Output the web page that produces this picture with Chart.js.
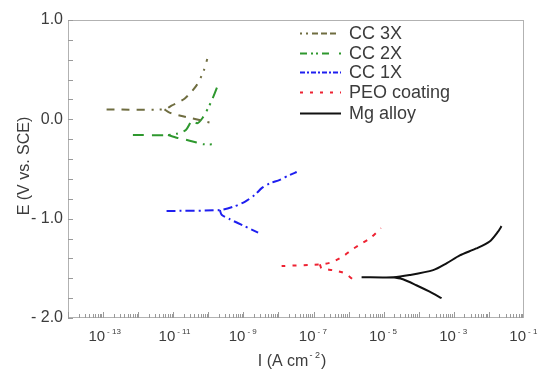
<!DOCTYPE html>
<html>
<head>
<meta charset="utf-8">
<script src="https://cdn.jsdelivr.net/npm/chart.js@4.4.0/dist/chart.umd.min.js"></script>
<style>
  body { margin: 0; background: #fff; }
</style>
</head>
<body>
<canvas id="tafelChart" width="550" height="378"></canvas>
<script>
// Legend names, in legend order
const seriesNames = ['CC 3X', 'CC 2X', 'CC 1X', 'PEO coating', 'Mg alloy'];

// log10(I / A cm-2) and E (V vs. SCE).
// "top" = left end of the flat part -> corrosion point -> anodic branch
// "bot" = corrosion point -> cathodic branch
const cc3xTopLogI = [-12.90, -11.25, -11.05, -10.67, -10.33, -10.13, -10.03];
const cc3xTopE    = [0.100, 0.100, 0.137, 0.210, 0.345, 0.490, 0.607];
const cc3xBotLogI = [-11.25, -11.12, -10.79, -10.38, -9.93];
const cc3xBotE    = [0.100, 0.070, 0.036, 0.003, -0.034];

const cc2xTopLogI = [-12.15, -11.15, -10.86, -10.64, -10.45, -10.32, -10.16, -9.99, -9.89, -9.76, -9.68];
const cc2xTopE    = [-0.158, -0.158, -0.141, -0.108, -0.007, -0.040, 0.016, 0.124, 0.200, 0.315, 0.396];
const cc2xBotLogI = [-11.15, -10.90, -10.70, -10.36, -10.15, -9.76];
const cc2xBotE    = [-0.158, -0.185, -0.200, -0.230, -0.250, -0.252];

const cc1xTopLogI = [-11.19, -9.67, -9.29, -8.96, -8.67, -8.47, -8.25, -7.96, -7.68, -7.48];
const cc1xTopE    = [-0.923, -0.913, -0.880, -0.830, -0.760, -0.690, -0.645, -0.610, -0.560, -0.530];
const cc1xBotLogI = [-9.67, -9.62, -9.38, -9.00, -8.58];
const cc1xBotE    = [-0.913, -0.960, -1.007, -1.070, -1.140];

const peoTopLogI = [-7.91, -6.82, -6.49, -6.16, -5.92, -5.68, -5.40, -5.16, -5.08];
const peoTopE    = [-1.477, -1.460, -1.440, -1.380, -1.316, -1.260, -1.200, -1.125, -1.095];
const peoBotLogI = [-6.82, -6.77, -6.44, -6.11, -5.82];
const peoBotE    = [-1.460, -1.500, -1.520, -1.550, -1.630];

const mgTopLogI = [-5.63, -4.73, -4.26, -3.59, -3.21, -2.83, -2.36, -1.98, -1.74, -1.64];
const mgTopE    = [-1.590, -1.590, -1.568, -1.518, -1.450, -1.370, -1.300, -1.230, -1.130, -1.075];
const mgBotLogI = [-4.73, -4.45, -4.07, -3.69, -3.35];
const mgBotE    = [-1.590, -1.610, -1.670, -1.735, -1.800];

// tick labels
const yTickText = { '1': '1.0', '0': '0.0', '-1': '- 1.0', '-2': '- 2.0' };
const xLabelExps = [-13, -11, -9, -7, -5, -3, -1];

const styles = [
    { color: '#6f6d40', dash: [8, 7, 8, 7, 8, 7, 2, 6, 2, 7], legendDash: [2, 4, 2, 4, 6, 3, 6, 3, 6, 10] },
    { color: '#2e982e', dash: [11, 8, 11, 6, 2, 5, 2, 6], legendDash: [7, 4, 2, 3, 2, 4, 7, 10] },
    { color: '#1f1ff0', dash: [9, 4, 2, 4], legendDash: [5, 2, 2, 2] },
    { color: '#ee2232', dash: [4, 7], legendDash: [3, 7] },
    { color: '#111111', dash: [], legendDash: [] }
];

function toPoints(logI, e) {
    return logI.map((v, i) => ({ x: Math.pow(10, v), y: e[i] }));
}

// one polyline per curve, the null point breaks it between the two branches
function curve(topI, topE, botI, botE) {
    return toPoints(topI, topE).concat([{ x: 1e-10, y: null }], toPoints(botI, botE));
}

const curves = [
    curve(cc3xTopLogI, cc3xTopE, cc3xBotLogI, cc3xBotE),
    curve(cc2xTopLogI, cc2xTopE, cc2xBotLogI, cc2xBotE),
    curve(cc1xTopLogI, cc1xTopE, cc1xBotLogI, cc1xBotE),
    curve(peoTopLogI, peoTopE, peoBotLogI, peoBotE),
    curve(mgTopLogI, mgTopE, mgBotLogI, mgBotE)
];

const textColor = '#3c3c3c';
const fontName = '"Liberation Sans", Arial, sans-serif';

const decor = {
    id: 'decor',
    afterDraw(chart) {
        const { ctx, chartArea: a, scales: { x, y } } = chart;
        const L = Math.round(a.left), R = Math.round(a.right), T = Math.round(a.top), B = Math.round(a.bottom);
        ctx.save();

        // frame
        ctx.strokeStyle = '#b2b2b2';
        ctx.lineWidth = 1;
        ctx.strokeRect(L + 0.5, T + 0.5, R - L - 1, B - T - 1);

        // inner ticks, bottom axis
        ctx.strokeStyle = '#9a9a9a';
        ctx.beginPath();
        for (let ex = -14; ex <= -2; ex++) {
            for (let k = 1; k <= 9; k++) {
                const px = Math.round(x.getPixelForValue(k * Math.pow(10, ex))) + 0.5;
                const len = k === 1 ? 6 : 4;
                ctx.moveTo(px, B);
                ctx.lineTo(px, B - len);
            }
        }
        // inner ticks, left axis
        y.ticks.forEach(t => {
            const py = Math.round(y.getPixelForValue(t.value)) + 0.5;
            ctx.moveTo(L, py);
            ctx.lineTo(L + 5, py);
        });
        ctx.stroke();

        // x tick labels 10^n
        ctx.fillStyle = textColor;
        ctx.textBaseline = 'alphabetic';
        xLabelExps.forEach(ex => {
            const px = x.getPixelForValue(Math.pow(10, ex));
            ctx.font = '15px ' + fontName;
            ctx.textAlign = 'right';
            ctx.fillText('10', px + 2, 341);
            ctx.font = '8px ' + fontName;
            ctx.textAlign = 'left';
            ctx.fillText('- ' + Math.abs(ex), px + 4, 334);
        });

        // x axis title
        ctx.font = '16px ' + fontName;
        const main = 'I (A cm', close = ')';
        const wMain = ctx.measureText(main).width;
        const wClose = ctx.measureText(close).width;
        ctx.font = '9px ' + fontName;
        const sup = '- 2';
        const wSup = ctx.measureText(sup).width;
        let sx = 292 - (wMain + wSup + wClose + 2) / 2;
        ctx.textAlign = 'left';
        ctx.font = '16px ' + fontName;
        ctx.fillText(main, sx, 366);
        ctx.font = '9px ' + fontName;
        ctx.fillText(sup, sx + wMain + 1, 358);
        ctx.font = '16px ' + fontName;
        ctx.fillText(close, sx + wMain + wSup + 2, 366);

        // y axis title
        ctx.save();
        ctx.translate(29, 166);
        ctx.rotate(-Math.PI / 2);
        ctx.textAlign = 'center';
        ctx.font = '16px ' + fontName;
        ctx.fillText('E (V vs. SCE)', 0, 0);
        ctx.restore();

        // legend
        const rows = [33, 53, 72, 92, 113];
        chart.data.datasets.forEach((ds, i) => {
            ctx.strokeStyle = ds.borderColor;
            ctx.lineWidth = 2;
            ctx.setLineDash(styles[i].legendDash);
            ctx.beginPath();
            ctx.moveTo(300, rows[i] + 0.5);
            ctx.lineTo(341, rows[i] + 0.5);
            ctx.stroke();
            ctx.setLineDash([]);
            ctx.fillStyle = textColor;
            ctx.font = '18px ' + fontName;
            ctx.textAlign = 'left';
            ctx.textBaseline = 'middle';
            ctx.fillText(ds.label, 349, rows[i] + 1);
        });
        ctx.restore();
    }
};

new Chart(document.getElementById('tafelChart'), {
    type: 'scatter',
    data: {
        datasets: curves.map((pts, i) => ({
            label: seriesNames[i],
            data: pts,
            showLine: true,
            spanGaps: false,
            borderColor: styles[i].color,
            borderDash: styles[i].dash,
            borderWidth: 2,
            pointRadius: 0,
            tension: 0.25
        }))
    },
    options: {
        responsive: false,
        animation: false,
        layout: { padding: { top: 20, right: 26, left: 0, bottom: 0 } },
        plugins: {
            legend: { display: false },
            tooltip: { enabled: false }
        },
        scales: {
            x: {
                type: 'logarithmic',
                min: 1e-14,
                max: 1e-1,
                grid: { display: false },
                border: { display: false },
                ticks: { display: false },
                afterFit: scale => { scale.height = 60; }
            },
            y: {
                min: -2,
                max: 1,
                grid: { display: false, drawTicks: false },
                border: { display: false },
                ticks: {
                    stepSize: 0.2,
                    autoSkip: false,
                    padding: 5,
                    color: textColor,
                    font: { family: fontName, size: 16 },
                    callback: v => {
                        const r = Math.round(v);
                        return Math.abs(v - r) < 1e-6 ? yTickText[String(r)] : '';
                    }
                },
                afterFit: scale => { scale.width = 68; }
            }
        }
    },
    plugins: [decor]
});
</script>
</body>
</html>
